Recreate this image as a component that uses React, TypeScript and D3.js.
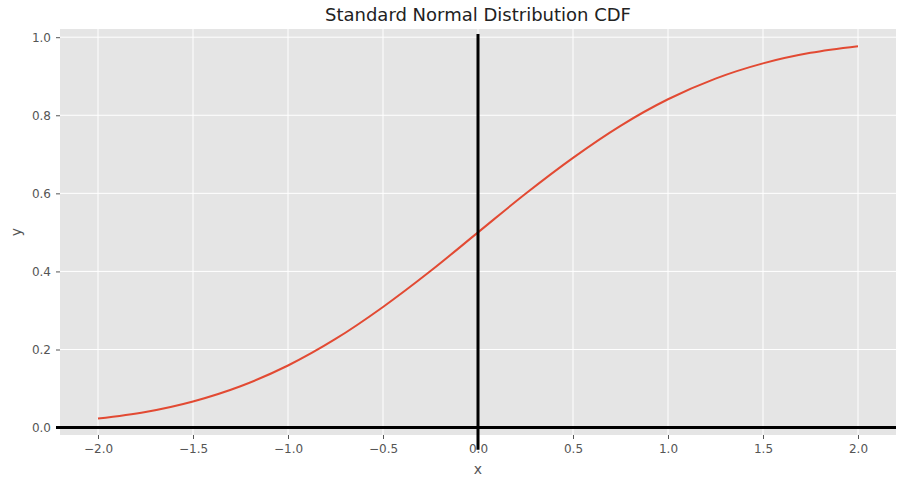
import React, { useEffect, useRef } from "react";
import * as d3 from "d3";

// values
const xs = [-2.0, -1.75, -1.5, -1.25, -1.0, -0.75, -0.5, -0.25, 0.0, 0.25, 0.5, 0.75, 1.0, 1.25, 1.5, 1.75, 2.0];
const ys = [0.023, 0.04, 0.067, 0.106, 0.159, 0.227, 0.309, 0.401, 0.5, 0.599, 0.691, 0.773, 0.841, 0.894, 0.933, 0.96, 0.977];
const xTicks = [-2.0, -1.5, -1.0, -0.5, 0.0, 0.5, 1.0, 1.5, 2.0];
const yTicks = [0.0, 0.2, 0.4, 0.6, 0.8, 1.0];

export default function App() {
  const ref = useRef<SVGSVGElement>(null);

  useEffect(() => {
    const width = 899;
    const height = 477;
    const margin = { top: 29, left: 60, bottom: 42, right: 3 };
    const iwidth = width - margin.left - margin.right;
    const iheight = height - margin.top - margin.bottom;
    const font = "DejaVu Sans, sans-serif";

    const root = d3.select(ref.current);
    root.selectAll("*").remove();

    const x = d3.scaleLinear().domain([-2.2, 2.2]).range([0, iwidth]);
    const y = d3.scaleLinear().domain([-0.019, 1.021]).range([iheight, 0]);

    const svg = root.append("g").attr("transform", `translate(${margin.left},${margin.top})`);

    svg.append("rect")
      .attr("width", iwidth)
      .attr("height", iheight)
      .attr("fill", "#e5e5e5");

    svg.append("g")
      .selectAll("line")
      .data(xTicks)
      .enter().append("line")
      .attr("x1", d => x(d)).attr("x2", d => x(d))
      .attr("y1", 0).attr("y2", iheight)
      .attr("stroke", "#fff").attr("stroke-width", 1);

    svg.append("g")
      .selectAll("line")
      .data(yTicks)
      .enter().append("line")
      .attr("y1", d => y(d)).attr("y2", d => y(d))
      .attr("x1", 0).attr("x2", iwidth)
      .attr("stroke", "#fff").attr("stroke-width", 1);

    const xAxis = svg.append("g")
      .attr("transform", `translate(0, ${iheight})`)
      .call(d3.axisBottom(x).tickValues(xTicks).tickFormat(d3.format(".1f")).tickSize(4).tickPadding(5));
    const yAxis = svg.append("g")
      .call(d3.axisLeft(y).tickValues(yTicks).tickFormat(d3.format(".1f")).tickSize(4).tickPadding(5));

    [xAxis, yAxis].forEach(ax => {
      ax.select(".domain").remove();
      ax.selectAll("line").attr("stroke", "#555");
      ax.selectAll("text").attr("fill", "#555").style("font-family", font).style("font-size", "12px");
    });

    const line = d3.line<number>()
      .x((d, i) => x(xs[i]))
      .y(d => y(d))
      .curve(d3.curveMonotoneX);

    svg.append("path")
      .datum(ys)
      .attr("d", line)
      .attr("fill", "none")
      .attr("stroke", "#e24a33")
      .attr("stroke-width", 2);

    // axes through the origin
    svg.append("line")
      .attr("x1", -4).attr("x2", iwidth)
      .attr("y1", y(0)).attr("y2", y(0))
      .attr("stroke", "#000").attr("stroke-width", 3);
    svg.append("line")
      .attr("x1", x(0)).attr("x2", x(0))
      .attr("y1", y(1.008)).attr("y2", y(-0.057))
      .attr("stroke", "#000").attr("stroke-width", 3);

    root.append("text")
      .attr("x", margin.left + iwidth / 2)
      .attr("y", 21)
      .attr("text-anchor", "middle")
      .style("font-family", font)
      .style("font-size", "18px")
      .attr("fill", "#222")
      .text("Standard Normal Distribution CDF");

    root.append("text")
      .attr("x", margin.left + iwidth / 2)
      .attr("y", 474)
      .attr("text-anchor", "middle")
      .style("font-family", font)
      .style("font-size", "14px")
      .attr("fill", "#555")
      .text("x");

    root.append("text")
      .attr("transform", `translate(21, ${margin.top + iheight / 2}) rotate(-90)`)
      .attr("text-anchor", "middle")
      .style("font-family", font)
      .style("font-size", "14px")
      .attr("fill", "#555")
      .text("y");
  }, []);

  return (
    <svg ref={ref} width={899} height={477} style={{ position: "absolute", left: 0, top: 0 }}></svg>
  );
}
